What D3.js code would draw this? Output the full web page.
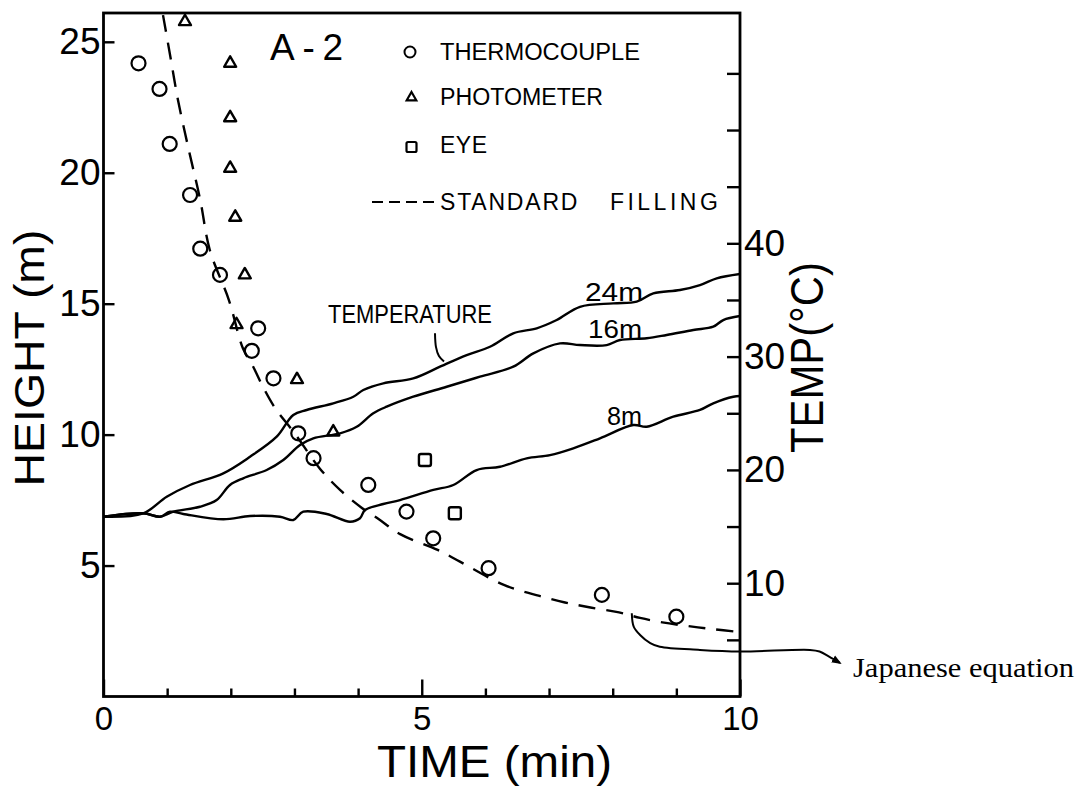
<!DOCTYPE html>
<html><head><meta charset="utf-8">
<script src="https://cdn.jsdelivr.net/npm/d3@7"></script>
<style>html,body{margin:0;padding:0;background:#fff;} svg{display:block;}</style>
</head><body>
<svg id="chart" width="1082" height="787"></svg>
<script>
// ---------------- DATA ----------------
const heightTicks = [5, 10, 15, 20, 25];
const timeTicks = [0, 5, 10];
const timeMinorTicks = [1, 2, 3, 4, 6, 7, 8, 9];
const tempTicks = [10, 20, 30, 40];
const tempMinorTicks = [5, 15, 25, 35, 45, 50, 55];

// Thermocouple (circles): time (min), height (m)
const thermoTime   = [0.55, 0.88, 1.04, 1.36, 1.52, 1.83, 2.43, 2.33, 2.67, 3.06, 3.30, 4.16, 4.76, 5.18, 6.05, 7.83, 9.00];
const thermoHeight = [24.18, 23.2, 21.1, 19.15, 17.1, 16.1, 14.06, 13.2, 12.15, 10.05, 9.1, 8.08, 7.06, 6.04, 4.9, 3.88, 3.05];

// Photometer (triangles)
const photoTime   = [1.28, 1.99, 1.99, 1.99, 2.07, 2.22, 2.09, 3.04, 3.61];
const photoHeight = [25.77, 24.18, 22.1, 20.17, 18.3, 16.1, 14.2, 12.1, 10.1];

// Eye (squares)
const eyeTime   = [5.05, 5.52];
const eyeHeight = [9.03, 7.0];

// Standard filling (dashed)
const stdTime   = [0.935, 1.06, 1.17, 1.34, 1.52, 1.67, 1.97, 2.19, 2.35, 2.5, 2.7, 3.0, 3.4, 3.72, 4.06, 4.31, 4.66, 5.25, 5.6, 6.3, 6.85, 7.25, 7.65, 8.1, 8.43, 8.78, 9.18, 9.55, 10];
const stdHeight = [26.02, 24.3, 22.78, 20.87, 18.96, 17.05, 15.14, 13.3, 12.6, 11.85, 11.0, 10.06, 8.7, 7.88, 7.2, 6.8, 6.2, 5.6, 5.15, 4.25, 3.84, 3.59, 3.40, 3.21, 3.0, 2.83, 2.69, 2.58, 2.46];

// Temperature curves (time min, temp °C)
const temp24Time = [0, 0.625, 0.993, 1.359, 1.882, 2.302, 2.721, 2.982, 3.192, 3.61, 3.925, 4.082, 4.396, 4.867, 5.287, 5.706, 6.072, 6.438, 6.806, 7.12, 7.486, 8.009, 8.377, 8.638, 9.057, 9.371, 9.634, 10];
const temp24     = [15.87, 16.17, 17.63, 18.67, 19.70, 21.16, 22.93, 24.85, 25.29, 25.88, 26.46, 27.05, 27.64, 28.08, 29.11, 30.14, 30.87, 32.06, 32.50, 33.23, 34.40, 34.70, 34.85, 35.59, 35.88, 36.32, 36.91, 37.29];
const temp16Time = [0, 0.625, 0.888, 1.097, 1.516, 1.778, 1.987, 2.196, 2.564, 2.825, 3.087, 3.296, 3.716, 3.978, 4.239, 4.449, 4.867, 5.392, 5.915, 6.438, 6.753, 7.172, 7.486, 7.906, 8.115, 8.534, 8.848, 9.266, 9.58, 9.737, 10];
const temp16     = [15.87, 16.17, 15.87, 16.31, 16.75, 17.34, 18.67, 19.26, 19.99, 20.87, 22.20, 22.79, 23.23, 23.81, 25.00, 25.58, 26.46, 27.34, 28.23, 29.11, 30.29, 31.17, 31.02, 31.02, 31.47, 31.62, 31.91, 32.35, 32.64, 33.23, 33.58];
const temp8Time  = [0, 0.625, 0.888, 1.045, 1.254, 1.882, 2.302, 2.773, 2.982, 3.139, 3.507, 3.873, 4.03, 4.108, 4.396, 4.658, 5.182, 5.496, 5.863, 6.229, 6.649, 7.015, 7.381, 7.8, 8.324, 8.534, 8.952, 9.371, 9.58, 9.895, 10];
const temp8      = [15.87, 16.17, 15.87, 16.31, 16.11, 15.64, 15.93, 15.87, 15.58, 16.31, 16.11, 15.43, 15.73, 16.46, 16.99, 17.34, 18.23, 18.67, 19.99, 20.28, 21.02, 21.31, 21.91, 22.79, 23.96, 23.81, 24.70, 25.29, 25.88, 26.46, 26.52];

// Annotation leaders (data units: time, height)
const jpLeaderTime   = [8.30, 8.33, 8.43, 8.59, 8.74, 9.37, 10, 11.1, 11.25, 11.4, 11.57];
const jpLeaderHeight = [3.18, 2.67, 2.35, 2.04, 1.90, 1.78, 1.72, 1.78, 1.72, 1.52, 1.28];
const tLeaderTime    = [5.208, 5.224, 5.27, 5.35];
const tLeaderHeight  = [13.87, 13.34, 13.0, 12.79];

// ---------------- CHART ----------------
const svg = d3.select("#chart");
const plot = {left: 103.5, right: 740, top: 13, bottom: 696.5};
const x  = d3.scaleLinear().domain([0, 10]).range([plot.left, plot.right]);
const yH = d3.scaleLinear().domain([0, 26.1]).range([plot.bottom, plot.top]);
const yT = d3.scaleLinear().domain([0, 60.33]).range([plot.bottom, plot.top]);

const SANS = "'Liberation Sans', Arial, sans-serif";
const zip = (a, b) => a.map((v, i) => [v, b[i]]);

svg.append("rect").attr("width", 1082).attr("height", 787).attr("fill", "#fff");

const defs = svg.append("defs");
defs.append("clipPath").attr("id", "clip").append("rect")
  .attr("x", plot.left).attr("y", plot.top)
  .attr("width", plot.right - plot.left).attr("height", plot.bottom - plot.top);
defs.append("marker").attr("id", "arrow").attr("viewBox", "0 0 10 10")
  .attr("refX", 8).attr("refY", 5).attr("markerWidth", 5).attr("markerHeight", 5)
  .attr("orient", "auto").attr("markerUnits", "strokeWidth")
  .append("path").attr("d", "M0,1 L10,5 L0,9 Z").attr("fill", "#000");

function styleAxis(g, fs) {
  g.select(".domain").remove();
  g.selectAll(".tick line").attr("stroke", "#000").attr("stroke-width", 2.4);
  g.selectAll(".tick text").attr("fill", "#000").attr("font-family", SANS).attr("font-size", fs);
}

// Left axis (height)
svg.append("g").attr("transform", `translate(${plot.left},0)`)
  .call(d3.axisLeft(yH).tickValues(heightTicks).tickSize(-11).tickPadding(3).tickFormat(d3.format("d")))
  .call(g => styleAxis(g, 37));
// Bottom axis (time)
svg.append("g").attr("transform", `translate(0,${plot.bottom})`)
  .call(d3.axisBottom(x).tickValues(timeTicks).tickSize(-17).tickPadding(10).tickFormat(d3.format("d")))
  .call(g => styleAxis(g, 33));
svg.append("g").attr("transform", `translate(0,${plot.bottom})`)
  .call(d3.axisBottom(x).tickValues(timeMinorTicks).tickSize(-8).tickFormat(""))
  .call(g => styleAxis(g, 33));
// Right axis (temp)
svg.append("g").attr("transform", `translate(${plot.right},0)`)
  .call(d3.axisRight(yT).tickValues(tempTicks).tickSize(-13).tickPadding(4).tickFormat(d3.format("d")))
  .call(g => styleAxis(g, 37));
svg.append("g").attr("transform", `translate(${plot.right},0)`)
  .call(d3.axisRight(yT).tickValues(tempMinorTicks).tickSize(-13).tickFormat(""))
  .call(g => styleAxis(g, 37));

// Frame
svg.append("rect").attr("x", plot.left).attr("y", plot.top)
  .attr("width", plot.right - plot.left).attr("height", plot.bottom - plot.top)
  .attr("fill", "none").attr("stroke", "#000").attr("stroke-width", 2.8);

// Text helper
function txt(s, px, py, fs, opts = {}) {
  const t = svg.append("text").attr("x", px).attr("y", py).text(s)
    .attr("font-family", opts.family || SANS).attr("font-size", fs).attr("fill", "#000")
    .attr("text-anchor", opts.anchor || "start");
  if (opts.len) t.attr("textLength", opts.len).attr("lengthAdjust", opts.adjust || "spacingAndGlyphs");
  if (opts.rotate) t.attr("transform", `rotate(${opts.rotate},${px},${py})`);
  if (opts.ls) t.attr("letter-spacing", opts.ls);
  return t;
}
txt("HEIGHT (m)", 44, 358, 42, {anchor: "middle", rotate: -90, len: 257});
txt("TIME (min)", 494.5, 777, 44, {anchor: "middle", len: 235});
txt("TEMP(°C)", 823, 357.5, 46, {anchor: "middle", rotate: -90, len: 191});
txt("A-2", 270, 60, 37, {len: 73, adjust: "spacing"});

// Data layer
const plotG = svg.append("g").attr("clip-path", "url(#clip)");
const lineT = d3.line().x(d => x(d[0])).y(d => yT(d[1])).curve(d3.curveCatmullRom.alpha(0.5));
const lineH = d3.line().x(d => x(d[0])).y(d => yH(d[1])).curve(d3.curveCatmullRom.alpha(0.5));

[[temp24Time, temp24], [temp16Time, temp16], [temp8Time, temp8]].forEach(([tt, vv]) => {
  plotG.append("path").datum(zip(tt, vv)).attr("d", lineT)
    .attr("fill", "none").attr("stroke", "#000").attr("stroke-width", 2.4).attr("stroke-linejoin", "round");
});

plotG.append("path").datum(zip(stdTime, stdHeight)).attr("d", lineH)
  .attr("fill", "none").attr("stroke", "#000").attr("stroke-width", 2.4)
  .attr("stroke-dasharray", "17,11");

// Leaders
svg.append("path").datum(zip(jpLeaderTime, jpLeaderHeight)).attr("d", lineH)
  .attr("fill", "none").attr("stroke", "#000").attr("stroke-width", 2).attr("marker-end", "url(#arrow)");
svg.append("path").datum(zip(tLeaderTime, tLeaderHeight)).attr("d", lineH)
  .attr("fill", "none").attr("stroke", "#000").attr("stroke-width", 2);

// Markers
svg.append("g").selectAll("circle").data(zip(thermoTime, thermoHeight)).join("circle")
  .attr("cx", d => x(d[0])).attr("cy", d => yH(d[1])).attr("r", 7)
  .attr("fill", "none").attr("stroke", "#000").attr("stroke-width", 2.2);
const tri = d3.symbol().type(d3.symbolTriangle).size(62);
svg.append("g").selectAll("path").data(zip(photoTime, photoHeight)).join("path")
  .attr("d", tri).attr("transform", d => `translate(${x(d[0])},${yH(d[1])})`)
  .attr("fill", "none").attr("stroke", "#000").attr("stroke-width", 2.4).attr("stroke-linejoin", "round");
svg.append("g").selectAll("rect").data(zip(eyeTime, eyeHeight)).join("rect")
  .attr("x", d => x(d[0]) - 6).attr("y", d => yH(d[1]) - 6).attr("width", 12).attr("height", 12).attr("rx", 2)
  .attr("fill", "none").attr("stroke", "#000").attr("stroke-width", 2.4);

// Curve labels
txt("24m", 585, 301, 26, {len: 58});
txt("16m", 588, 338, 26, {len: 54});
txt("8m", 607, 425, 26, {len: 35});
txt("TEMPERATURE", 328, 323, 25, {len: 164});

// Legend
const leg = svg.append("g");
leg.append("circle").attr("cx", 410).attr("cy", 52).attr("r", 5.5)
  .attr("fill", "none").attr("stroke", "#000").attr("stroke-width", 2);
leg.append("path").attr("d", d3.symbol().type(d3.symbolTriangle).size(40))
  .attr("transform", "translate(411.5,97.5)")
  .attr("fill", "none").attr("stroke", "#000").attr("stroke-width", 2.2);
leg.append("rect").attr("x", 406.5).attr("y", 142).attr("width", 10).attr("height", 10).attr("rx", 1.5)
  .attr("fill", "none").attr("stroke", "#000").attr("stroke-width", 2.2);
leg.append("line").attr("x1", 372).attr("x2", 440).attr("y1", 202).attr("y2", 202)
  .attr("stroke", "#000").attr("stroke-width", 2.2).attr("stroke-dasharray", "11,6");
txt("THERMOCOUPLE", 440, 60, 23, {len: 200});
txt("PHOTOMETER", 440, 105, 23, {len: 163});
txt("EYE", 440, 153, 23, {len: 47, adjust: "spacing"});
const sf = svg.append("text").attr("y", 210).attr("font-family", SANS).attr("font-size", 23).attr("fill", "#000");
sf.append("tspan").attr("x", 440).attr("letter-spacing", 1.8).text("STANDARD");
sf.append("tspan").attr("x", 600).attr("letter-spacing", 3.5).text(" FILLING");

// Japanese equation
txt("Japanese equation", 853, 677, 28, {family: "'Liberation Serif', 'DejaVu Serif', serif", len: 221});
</script>
</body></html>
